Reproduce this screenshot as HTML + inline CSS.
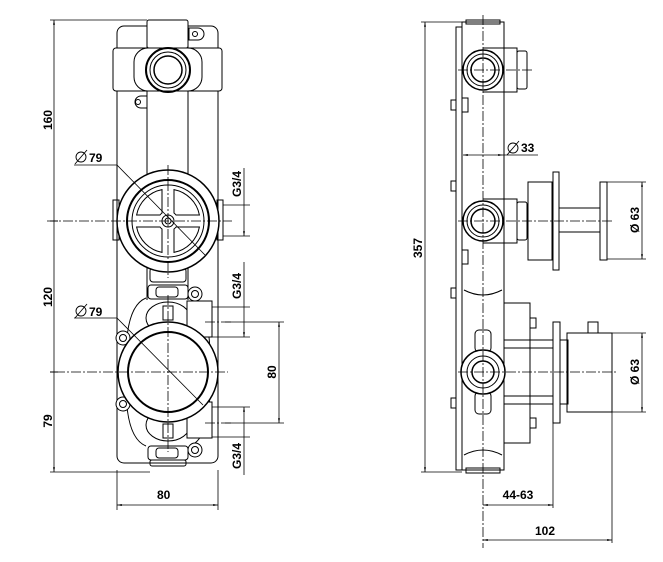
<!DOCTYPE html>
<html><head><meta charset="utf-8"><style>html,body{margin:0;padding:0;background:#fff}svg{display:block}text{font-family:"Liberation Sans",sans-serif;font-weight:bold;font-size:12px;fill:#000}</style></head>
<body>
<svg width="663" height="562" viewBox="0 0 663 562" xmlns="http://www.w3.org/2000/svg">
<defs>
<marker id="a" viewBox="0 0 10 10" refX="10" refY="5" markerWidth="6" markerHeight="6" orient="auto-start-reverse"><path d="M0,3 L10,5 L0,7z" fill="#000"/></marker>
</defs>
<g fill="none" stroke="#000" stroke-width="1">
<!-- LEFT VIEW -->
<rect x="117" y="26" width="101" height="437" rx="7"/>
<line x1="147" y1="26" x2="147" y2="300"/><line x1="188" y1="26" x2="188" y2="300"/>
<rect x="147" y="20" width="41" height="28" rx="2" fill="#fff"/>
<rect x="113" y="48" width="109" height="43" rx="3" fill="#fff"/>
<rect x="134" y="48" width="68" height="43" rx="14"/>
<circle cx="168" cy="70" r="22" stroke-width="2"/><circle cx="168" cy="70" r="18"/><circle cx="168" cy="70" r="14" stroke-width="1.5"/>
<path d="M189,28 h9 a6,6 0 0 1 0,12 h-9z"/><circle cx="195" cy="34" r="2.5"/>
<path d="M147,96 h-6 a6,6 0 0 0 0,12 h6z"/><circle cx="138" cy="102" r="2.5"/>
<rect x="113" y="200" width="6" height="40"/><rect x="217" y="200" width="6" height="40"/>
<rect x="150" y="268" width="36" height="14" rx="3" fill="#fff"/>
<circle cx="168" cy="221" r="51" stroke-width="1.5" fill="#fff"/><circle cx="168" cy="221" r="41" stroke-width="2"/><circle cx="168" cy="221" r="36"/>
<g transform="translate(168,221)">
<path id="w" d="M6,-31.4 A32,32 0 0 1 31.4,-6 L8,-6 A10,10 0 0 0 6,-8 Z"/>
<use href="#w" transform="scale(-1,1)"/><use href="#w" transform="scale(1,-1)"/><use href="#w" transform="scale(-1,-1)"/>
</g>
<circle cx="168" cy="221" r="6"/><circle cx="168" cy="221" r="3"/>
<rect x="148" y="285" width="40" height="14" rx="3" fill="#fff"/><rect x="156" y="287" width="22" height="10" rx="3"/>
<rect x="150" y="460" width="36" height="6" rx="2"/>
<rect x="148" y="446" width="40" height="14" rx="3" fill="#fff"/><rect x="156" y="448" width="22" height="10" rx="3"/>
<path d="M146,298 q-20,8 -20,60 M190,298 q20,8 20,60 M146,446 q-20,-8 -20,-60 M190,446 q20,-8 20,-60"/>
<ellipse cx="168" cy="318" rx="22" ry="16" fill="#fff"/><ellipse cx="168" cy="425" rx="22" ry="16" fill="#fff"/>
<rect x="163" y="306" width="10" height="14"/><rect x="163" y="424" width="10" height="14"/>
<rect x="187" y="301" width="25" height="36" fill="#fff"/><rect x="187" y="402" width="25" height="36" fill="#fff"/>
<circle cx="123" cy="338" r="7" fill="#fff"/><circle cx="123" cy="338" r="3.5"/>
<circle cx="123" cy="404" r="7" fill="#fff"/><circle cx="123" cy="404" r="3.5"/>
<circle cx="195" cy="294" r="7" fill="#fff"/><circle cx="195" cy="294" r="3.5"/>
<circle cx="195" cy="450" r="7" fill="#fff"/><circle cx="195" cy="450" r="3.5"/>
<circle cx="168" cy="372" r="50" stroke-width="1.5" fill="#fff"/><circle cx="168" cy="372" r="40" stroke-width="2"/>
<!-- left centerlines -->
<g stroke-dasharray="10,2,2,2" stroke-width="0.8">
<line x1="47" y1="221" x2="232" y2="221"/><line x1="55" y1="372" x2="228" y2="372"/>
<line x1="168" y1="165" x2="168" y2="278"/><line x1="168" y1="295" x2="168" y2="452"/>
<line x1="205" y1="322" x2="232" y2="322"/><line x1="205" y1="423" x2="232" y2="423"/>
</g>
<!-- left dims -->
<line x1="50" y1="20" x2="147" y2="20" stroke-width="0.8"/>
<line x1="50" y1="472" x2="150" y2="472" stroke-width="0.8"/>
<line x1="54" y1="20" x2="54" y2="472" marker-start="url(#a)" marker-end="url(#a)" stroke-width="0.8"/>
<line x1="50" y1="221" x2="58" y2="221"/><line x1="50" y1="372" x2="58" y2="372"/>
<line x1="117" y1="470" x2="117" y2="510" stroke-width="0.8"/><line x1="218" y1="470" x2="218" y2="510" stroke-width="0.8"/>
<line x1="117" y1="505" x2="218" y2="505" marker-start="url(#a)" marker-end="url(#a)" stroke-width="0.8"/>
<line x1="223" y1="205" x2="250" y2="205" stroke-width="0.8"/><line x1="223" y1="236" x2="250" y2="236" stroke-width="0.8"/>
<line x1="244" y1="168" x2="244" y2="236" marker-end="url(#a)" stroke-width="0.8"/>
<line x1="212" y1="307" x2="250" y2="307" stroke-width="0.8"/><line x1="212" y1="337" x2="250" y2="337" stroke-width="0.8"/>
<line x1="244" y1="262" x2="244" y2="337" marker-end="url(#a)" stroke-width="0.8"/>
<line x1="212" y1="407" x2="250" y2="407" stroke-width="0.8"/><line x1="212" y1="437" x2="250" y2="437" stroke-width="0.8"/>
<line x1="244" y1="407" x2="244" y2="475" marker-start="url(#a)" stroke-width="0.8"/>
<line x1="225" y1="322" x2="284" y2="322" stroke-width="0.8"/><line x1="225" y1="423" x2="284" y2="423" stroke-width="0.8"/>
<line x1="279" y1="322" x2="279" y2="423" marker-start="url(#a)" marker-end="url(#a)" stroke-width="0.8"/>
<path d="M74,165 H117 L205,255" stroke-width="0.8"/><path d="M74,318 H117 L203,405" stroke-width="0.8"/>
<circle cx="81" cy="157" r="5" stroke-width="0.9"/><line x1="75" y1="164" x2="87" y2="150" stroke-width="0.9"/>
<circle cx="81" cy="311" r="5" stroke-width="0.9"/><line x1="75" y1="318" x2="87" y2="304" stroke-width="0.9"/>

<!-- RIGHT VIEW -->
<rect x="456" y="27" width="6" height="443"/>
<rect x="462" y="22" width="42" height="448"/>
<rect x="466" y="20" width="34" height="4"/><rect x="466" y="468" width="34" height="5"/>
<path d="M483,48 H517 V92 H483"/><rect x="517" y="51" width="10" height="38" rx="2"/>
<circle cx="483" cy="70" r="20" stroke-width="1.5" fill="#fff"/><circle cx="483" cy="70" r="16"/><circle cx="483" cy="70" r="12" stroke-width="1.5"/>
<path d="M483,199 H517 V243 H483"/><rect x="517" y="202" width="10" height="38" rx="2"/>
<circle cx="483" cy="221" r="20" stroke-width="1.5" fill="#fff"/><circle cx="483" cy="221" r="16"/><circle cx="483" cy="221" r="12" stroke-width="1.5"/>
<rect x="451" y="100" width="5" height="10"/><rect x="462" y="98" width="6" height="14"/>
<rect x="451" y="181" width="5" height="10"/><rect x="462" y="250" width="6" height="14"/>
<rect x="451" y="288" width="5" height="10"/><rect x="451" y="398" width="5" height="10"/>
<path d="M464,290 q19,10 38,0 M464,455 q19,-10 38,0"/>
<rect x="504" y="303" width="26" height="140"/>
<rect x="530" y="318" width="6" height="10"/><rect x="530" y="418" width="6" height="10"/>
<line x1="504" y1="340" x2="553" y2="340"/><line x1="504" y1="348" x2="553" y2="348"/>
<line x1="504" y1="396" x2="553" y2="396"/><line x1="504" y1="404" x2="553" y2="404"/>
<rect x="475" y="330" width="16" height="22" rx="4" fill="#fff"/><rect x="475" y="392" width="16" height="22" rx="4" fill="#fff"/>
<circle cx="483" cy="372" r="22" stroke-width="1.5" fill="#fff"/><circle cx="483" cy="372" r="16"/><circle cx="483" cy="372" r="11" stroke-width="1.5"/>
<!-- knob upper -->
<rect x="528" y="182" width="24" height="78"/>
<rect x="553" y="172" width="6" height="98"/>
<rect x="559" y="208" width="41" height="24"/>
<rect x="600" y="182" width="7" height="78"/>
<!-- thermostat lower -->
<rect x="553" y="322" width="7" height="101"/>
<rect x="560" y="340" width="8" height="64"/>
<rect x="567" y="333" width="45" height="79"/>
<rect x="588" y="322" width="10" height="11"/>
<!-- right centerlines -->
<g stroke-dasharray="10,2,2,2" stroke-width="0.8">
<line x1="483" y1="15" x2="483" y2="548"/>
<line x1="458" y1="70" x2="532" y2="70"/>
<line x1="458" y1="221" x2="612" y2="221"/>
<line x1="458" y1="372" x2="618" y2="372"/>
</g>
<!-- right dims -->
<line x1="421" y1="22" x2="462" y2="22" stroke-width="0.8"/><line x1="421" y1="472" x2="462" y2="472" stroke-width="0.8"/>
<line x1="425" y1="22" x2="425" y2="472" marker-start="url(#a)" marker-end="url(#a)" stroke-width="0.8"/>
<line x1="463" y1="155" x2="503" y2="155" marker-start="url(#a)" marker-end="url(#a)" stroke-width="0.8"/>
<line x1="503" y1="155" x2="538" y2="155" stroke-width="0.8"/>
<line x1="607" y1="182" x2="646" y2="182" stroke-width="0.8"/><line x1="607" y1="259" x2="646" y2="259" stroke-width="0.8"/>
<line x1="642" y1="182" x2="642" y2="259" marker-start="url(#a)" marker-end="url(#a)" stroke-width="0.8"/>
<line x1="612" y1="333" x2="646" y2="333" stroke-width="0.8"/><line x1="612" y1="412" x2="646" y2="412" stroke-width="0.8"/>
<line x1="642" y1="333" x2="642" y2="412" marker-start="url(#a)" marker-end="url(#a)" stroke-width="0.8"/>
<line x1="553" y1="423" x2="553" y2="508" stroke-width="0.8"/>
<line x1="612" y1="412" x2="612" y2="543" stroke-width="0.8"/>
<line x1="483" y1="505" x2="553" y2="505" marker-start="url(#a)" marker-end="url(#a)" stroke-width="0.8"/>
<line x1="483" y1="540" x2="612" y2="540" marker-start="url(#a)" marker-end="url(#a)" stroke-width="0.8"/>
<circle cx="513" cy="148" r="5" stroke-width="0.9"/><line x1="507" y1="155" x2="519" y2="141" stroke-width="0.9"/>
</g>
<!-- texts -->
<text x="89" y="162">79</text>
<text x="89" y="316">79</text>
<text x="157" y="499">80</text>
<text transform="translate(52,120) rotate(-90)" text-anchor="middle" font-size="11">160</text>
<text transform="translate(52,297) rotate(-90)" text-anchor="middle" font-size="11">120</text>
<text transform="translate(52,421) rotate(-90)" text-anchor="middle" font-size="11">79</text>
<text transform="translate(241,184) rotate(-90)" text-anchor="middle">G3/4</text>
<text transform="translate(241,286) rotate(-90)" text-anchor="middle">G3/4</text>
<text transform="translate(241,456) rotate(-90)" text-anchor="middle">G3/4</text>
<text transform="translate(276,372) rotate(-90)" text-anchor="middle">80</text>
<text transform="translate(422,248) rotate(-90)" text-anchor="middle" font-size="11">357</text>
<text x="521" y="152">33</text>
<text transform="translate(639,220) rotate(-90)" text-anchor="middle">Ø 63</text>
<text transform="translate(639,372) rotate(-90)" text-anchor="middle">Ø 63</text>
<text x="518" y="499" text-anchor="middle">44-63</text>
<text x="545" y="535" text-anchor="middle">102</text>
</svg>
</body></html>
